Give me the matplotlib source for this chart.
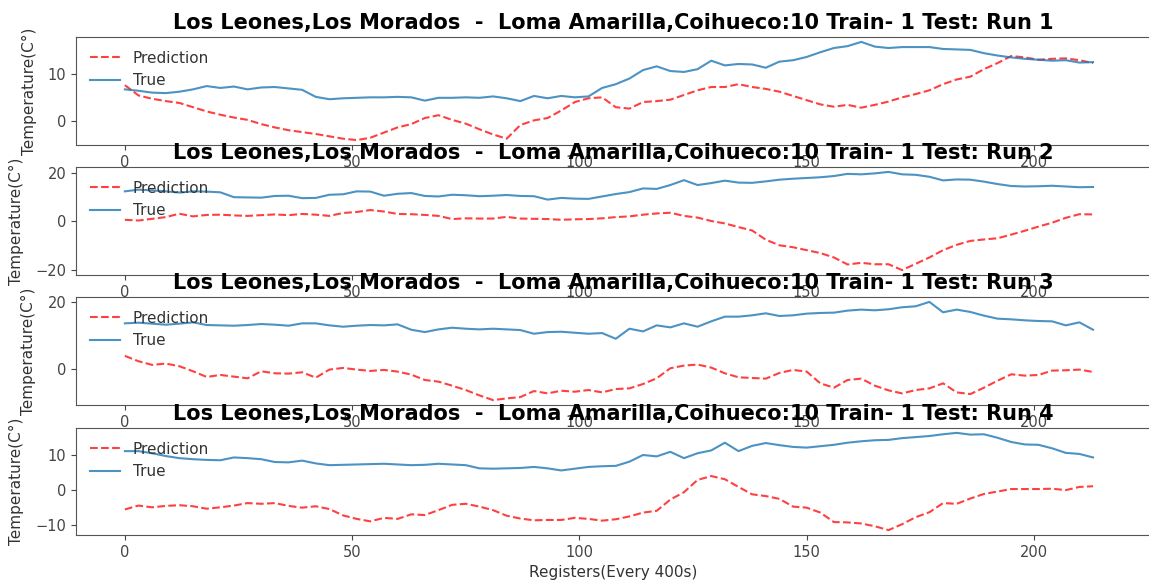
import numpy as np
import matplotlib
matplotlib.use("Agg")
import matplotlib.pyplot as plt

# registers sampled every 3 steps (216 registers in total per run)
n_registers = 216
step = 3
registers = np.arange(0, n_registers, step)

title_base = "Los Leones,Los Morados  -  Loma Amarilla,Coihueco:10 Train- 1 Test: Run "
runs = [1, 2, 3, 4]

true_run1 = [6.7, 6.4, 6.0, 5.9, 6.2, 6.7, 7.4, 7.0, 7.3, 6.7, 7.1, 7.2, 6.9, 6.6, 5.1, 4.6,
             4.8, 4.9, 5.0, 5.0, 5.1, 5.0, 4.3, 4.9, 4.9, 5.0, 4.9, 5.2, 4.8, 4.2, 5.3, 4.8,
             5.3, 5.0, 5.2, 7.0, 7.8, 9.0, 10.8, 11.6, 10.6, 10.4, 11.0, 12.8, 11.8, 12.1, 12.0, 11.3,
             12.6, 12.9, 13.6, 14.6, 15.5, 15.9, 16.8, 15.8, 15.5, 15.7, 15.7, 15.7, 15.3, 15.2, 15.1, 14.4,
             13.9, 13.5, 13.2, 13.0, 12.8, 12.9, 12.4, 12.5]
pred_run1 = [7.6, 5.4, 4.7, 4.2, 3.8, 2.9, 2.0, 1.3, 0.7, 0.2, -0.7, -1.4, -2.0, -2.4, -2.8, -3.3,
             -3.8, -4.1, -3.6, -2.5, -1.4, -0.7, 0.6, 1.2, 0.2, -0.6, -1.8, -2.9, -3.8, -0.9, 0.1, 0.6,
             2.2, 4.0, 4.8, 5.0, 2.9, 2.6, 4.0, 4.2, 4.5, 5.5, 6.5, 7.2, 7.2, 7.8, 7.2, 6.8,
             6.2, 5.3, 4.4, 3.5, 3.0, 3.4, 2.8, 3.4, 4.1, 5.0, 5.7, 6.5, 7.8, 8.8, 9.4, 11.0,
             12.3, 13.8, 13.5, 13.0, 13.2, 13.3, 12.9, 12.3]

true_run2 = [12.4, 13.1, 12.8, 12.4, 11.9, 12.4, 12.3, 12.0, 10.0, 9.9, 9.8, 10.5, 10.6, 9.6, 9.7, 11.0,
             11.2, 12.4, 12.3, 10.6, 11.4, 11.7, 10.5, 10.3, 11.0, 10.8, 10.4, 10.6, 10.9, 10.5, 10.4, 9.0,
             9.7, 9.4, 9.3, 10.3, 11.3, 12.1, 13.6, 13.4, 15.0, 17.0, 15.0, 15.8, 16.8, 16.0, 15.9, 16.5,
             17.2, 17.6, 17.9, 18.2, 18.7, 19.6, 19.4, 19.8, 20.4, 19.4, 19.2, 18.4, 16.9, 17.3, 17.2, 16.4,
             15.4, 14.6, 14.4, 14.5, 14.7, 14.4, 14.1, 14.2]
pred_run2 = [0.7, 0.4, 1.1, 1.8, 3.2, 2.1, 2.7, 2.8, 2.5, 2.3, 2.6, 2.9, 2.6, 3.1, 2.8, 2.3,
             3.5, 3.9, 4.7, 4.1, 3.1, 3.0, 2.7, 2.3, 1.0, 1.3, 1.2, 1.2, 1.9, 1.2, 1.1, 1.0,
             0.7, 0.9, 1.0, 1.3, 1.8, 2.1, 2.8, 3.3, 3.6, 2.3, 1.6, 0.2, -0.8, -2.3, -3.7, -7.5,
             -9.8, -10.6, -11.8, -13.0, -14.8, -17.7, -17.0, -17.6, -17.6, -20.0, -17.4, -14.8, -11.8, -9.6, -8.0, -7.4,
             -6.9, -5.4, -3.8, -2.1, -0.5, 1.5, 3.0, 2.9]

true_run3 = [13.6, 13.8, 13.5, 13.2, 13.5, 13.9, 13.1, 13.0, 12.9, 13.1, 13.4, 13.2, 12.9, 13.6, 13.6, 13.0,
             12.6, 12.9, 13.1, 13.0, 13.3, 11.7, 11.0, 11.8, 12.3, 12.0, 11.8, 12.0, 11.8, 11.6, 10.5, 11.0,
             11.1, 10.8, 10.5, 10.7, 9.0, 12.0, 11.2, 13.0, 12.4, 13.6, 12.6, 14.2, 15.6, 15.6, 16.0, 16.6,
             15.8, 16.0, 16.5, 16.7, 16.8, 17.4, 17.7, 17.5, 17.8, 18.4, 18.7, 20.0, 16.9, 17.7, 17.0, 15.9,
             15.0, 14.8, 14.5, 14.3, 14.2, 13.0, 13.9, 11.7]
pred_run3 = [3.9, 2.3, 1.2, 1.6, 0.8, -0.7, -2.4, -1.8, -2.3, -2.8, -0.7, -1.3, -1.4, -1.0, -2.6, -0.2,
             0.3, -0.2, -0.6, -0.3, -0.8, -1.7, -3.3, -3.8, -5.0, -6.3, -7.9, -9.3, -8.8, -8.4, -6.6, -7.3,
             -6.5, -6.8, -6.3, -7.0, -6.0, -5.8, -4.5, -2.8, 0.2, 1.0, 1.3, 0.4, -1.3, -2.5, -2.7, -2.9,
             -1.2, -0.3, -0.8, -4.3, -5.6, -3.3, -2.9, -5.0, -6.4, -7.3, -6.3, -5.8, -4.3, -7.0, -7.5, -5.6,
             -3.5, -1.6, -2.0, -1.8, -0.5, -0.4, -0.2, -0.9]

true_run4 = [11.0, 11.0, 10.4, 9.6, 9.0, 8.7, 8.5, 8.4, 9.2, 9.0, 8.7, 7.9, 7.8, 8.3, 7.5, 7.0,
             7.1, 7.2, 7.3, 7.4, 7.2, 7.0, 7.1, 7.4, 7.2, 7.0, 6.1, 6.0, 6.1, 6.2, 6.5, 6.1,
             5.5, 6.0, 6.5, 6.7, 6.8, 8.0, 9.9, 9.5, 10.8, 9.0, 10.4, 11.2, 13.4, 11.0, 12.5, 13.3,
             12.7, 12.2, 12.0, 12.4, 12.8, 13.4, 13.8, 14.1, 14.2, 14.7, 15.0, 15.3, 15.8, 16.2, 15.7, 15.8,
             14.8, 13.6, 12.9, 12.8, 11.8, 10.5, 10.2, 9.2]
pred_run4 = [-5.6, -4.5, -5.0, -4.6, -4.4, -4.7, -5.4, -5.0, -4.5, -3.8, -4.0, -3.8, -4.6, -5.1, -4.7, -5.5,
             -7.3, -8.3, -9.0, -8.0, -8.3, -7.0, -7.2, -5.8, -4.3, -4.0, -4.8, -5.8, -7.4, -8.2, -8.7, -8.6,
             -8.6, -8.0, -8.3, -8.8, -8.4, -7.6, -6.5, -6.0, -2.8, -0.7, 2.8, 3.9, 3.0, 0.8, -1.3, -1.8,
             -2.6, -4.8, -5.1, -6.5, -9.2, -9.3, -9.6, -10.4, -11.5, -9.8, -7.8, -6.4, -3.8, -4.0, -2.5, -1.2,
             -0.5, 0.2, 0.2, 0.2, 0.3, -0.1, 0.8, 1.0]

true_values = [true_run1, true_run2, true_run3, true_run4]
pred_values = [pred_run1, pred_run2, pred_run3, pred_run4]
yticks = [[0, 10], [-20, 0, 20], [0, 20], [-10, 0, 10]]

fig = plt.figure(figsize=(11.49, 5.82), dpi=100)

# axes boxes in pixels from top: (top, bottom)
boxes = [(37, 145), (167, 275), (297, 405), (428, 535)]
W, H = 1149.0, 582.0
left_px, right_px = 76, 1151

pad = (n_registers - 1) * 0.05
for i, run in enumerate(runs):
    top, bot = boxes[i]
    ax = fig.add_axes([left_px / W, 1 - bot / H, (right_px - left_px) / W, (bot - top) / H])
    ax.plot(registers, pred_values[i], 'r--', alpha=0.75, linewidth=1.5, label="Prediction")
    ax.plot(registers, true_values[i], color='#1f77b4', alpha=0.8, linewidth=1.5, label="True")
    ax.set_xlim(-pad, n_registers - 1 + pad)
    ax.set_xticks([0, 50, 100, 150, 200])
    ax.set_yticks(yticks[i])
    ax.set_title(title_base + str(run), fontsize=15, fontweight='bold')
    ax.set_ylabel("Temperature(C°)", fontsize=11, labelpad=8, color='#333333')
    ax.tick_params(labelsize=10.5, colors='#444444')
    for s in ax.spines.values():
        s.set_color('#555555')
    leg = ax.legend(loc='upper left', frameon=False, fontsize=11)
    for t in leg.get_texts():
        t.set_color('#333333')
    if i == len(runs) - 1:
        ax.set_xlabel("Registers(Every 400s)", fontsize=11, color='#333333')

fig.savefig("out.png", dpi=100)
